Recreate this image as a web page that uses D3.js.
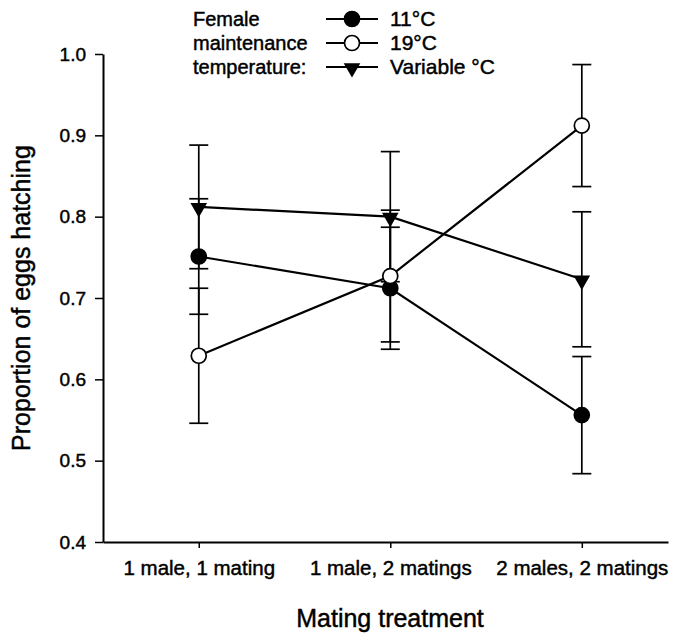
<!DOCTYPE html>
<html>
<head>
<meta charset="utf-8">
<script src="https://cdn.jsdelivr.net/npm/d3@7"></script>
<style>
  body { margin: 0; background: #fff; }
  text { font-family: "Liberation Sans", Arial, sans-serif; fill: #000; stroke: #000; stroke-width: 0.45px; }
</style>
</head>
<body>
<div id="chart"></div>
<script>
// data
var treatments = ["1 male, 1 mating", "1 male, 2 matings", "2 males, 2 matings"];
var yTicks = [0.4, 0.5, 0.6, 0.7, 0.8, 0.9, 1.0];

var mean11 = [0.751, 0.712, 0.556];
var se11 = [0.071, 0.075, 0.072];
var mean19 = [0.629, 0.727, 0.912];
var se19 = [0.083, 0.081, 0.075];
var meanVar = [0.812, 0.800, 0.723];
var seVar = [0.076, 0.080, 0.083];

var legendLabels = ["11°C", "19°C", "Variable °C"];
var legendTitle = ["Female", "maintenance", "temperature:"];

var W = 674, H = 636;
var margin = { top: 54, right: 6, bottom: 94, left: 103 };

var svg = d3.select("#chart").append("svg")
  .attr("width", W)
  .attr("height", H);

var x = d3.scaleLinear()
  .domain([0.5, 3.45])
  .range([margin.left, W - margin.right]);

var y = d3.scaleLinear()
  .domain([0.4, 1.0])
  .range([H - margin.bottom, margin.top]);

// axes
var yAxis = svg.append("g")
  .attr("transform", "translate(" + margin.left + ",0)")
  .call(d3.axisLeft(y).tickValues(yTicks).tickFormat(d3.format(".1f")).tickSize(8).tickSizeOuter(0).tickPadding(9));
yAxis.select(".domain").attr("stroke-width", 2);
yAxis.selectAll(".tick line").attr("stroke-width", 1.5);
yAxis.selectAll("text").style("font-size", "19px");

var xAxis = svg.append("g")
  .attr("transform", "translate(0," + y(0.4) + ")")
  .call(d3.axisBottom(x).tickValues([1, 2, 3]).tickFormat(function (d) { return treatments[d - 1]; })
    .tickSize(6).tickSizeOuter(0).tickPadding(12));
xAxis.select(".domain").attr("stroke-width", 2);
xAxis.selectAll(".tick line").attr("stroke-width", 1.5);
xAxis.selectAll("text").style("font-size", "20.5px");

// axis titles
svg.append("text")
  .attr("x", 390)
  .attr("y", 627)
  .attr("text-anchor", "middle")
  .style("font-size", "25px")
  .text("Mating treatment");

svg.append("text")
  .attr("transform", "translate(30," + y(0.7) + ")rotate(-90)")
  .attr("text-anchor", "middle")
  .style("font-size", "25px")
  .text("Proportion of eggs hatching");

var series = [
  { mean: meanVar, se: seVar, shape: "tri" },
  { mean: mean11, se: se11, shape: "filled" },
  { mean: mean19, se: se19, shape: "open" }
];

// error bars
series.forEach(function (s) {
  var g = svg.append("g");
  s.mean.forEach(function (m, i) {
    var cx = x(i + 1);
    g.append("line")
      .attr("x1", cx).attr("x2", cx)
      .attr("y1", y(m - s.se[i])).attr("y2", y(m + s.se[i]))
      .attr("stroke", "#000").attr("stroke-width", 1.7);
    [m - s.se[i], m + s.se[i]].forEach(function (v) {
      g.append("line")
        .attr("x1", cx - 9.5).attr("x2", cx + 9.5)
        .attr("y1", y(v)).attr("y2", y(v))
        .attr("stroke", "#000").attr("stroke-width", 1.7);
    });
  });
});

// connecting lines
var line = d3.line()
  .x(function (d, i) { return x(i + 1); })
  .y(function (d) { return y(d); });

series.forEach(function (s) {
  svg.append("path")
    .attr("d", line(s.mean))
    .attr("fill", "none")
    .attr("stroke", "#000")
    .attr("stroke-width", 2.2);
});

var triSym = d3.symbol().type(d3.symbolTriangle).size(120);

function drawMarker(g, shape, cx, cy) {
  if (shape === "tri") {
    g.append("path")
      .attr("d", triSym())
      .attr("transform", "translate(" + cx + "," + (cy + 1) + ")rotate(180)")
      .attr("fill", "#000");
  } else {
    g.append("circle")
      .attr("cx", cx).attr("cy", cy).attr("r", 7.5)
      .attr("fill", shape === "filled" ? "#000" : "#fff")
      .attr("stroke", "#000").attr("stroke-width", 1.7);
  }
}

series.forEach(function (s) {
  var g = svg.append("g");
  s.mean.forEach(function (m, i) {
    drawMarker(g, s.shape, x(i + 1), y(m));
  });
});

// legend
var legend = svg.append("g");
legendTitle.forEach(function (t, i) {
  legend.append("text")
    .attr("x", 193).attr("y", 19 + i * 24)
    .attr("dy", "0.35em")
    .style("font-size", "20px")
    .text(t);
});
var legendShapes = ["filled", "open", "tri"];
legendLabels.forEach(function (t, i) {
  var ly = 19 + i * 24;
  legend.append("line")
    .attr("x1", 326).attr("x2", 378)
    .attr("y1", ly).attr("y2", ly)
    .attr("stroke", "#000").attr("stroke-width", 2);
  drawMarker(legend, legendShapes[i], 352, ly);
  legend.append("text")
    .attr("x", 390).attr("y", ly)
    .attr("dy", "0.35em")
    .style("font-size", "21px")
    .text(t);
});
</script>
</body>
</html>
